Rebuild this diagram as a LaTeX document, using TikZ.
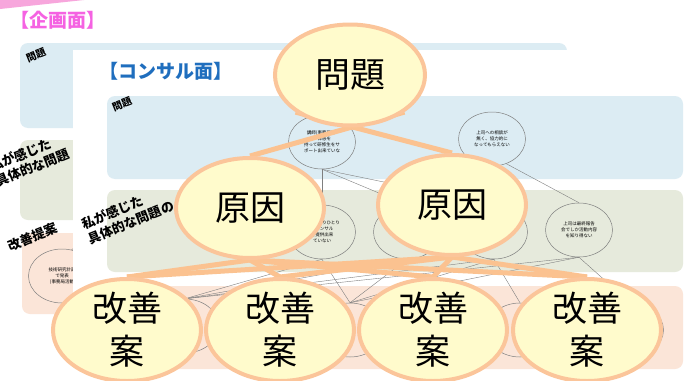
\documentclass[tikz,border=0pt]{standalone}
\usepackage{fontspec}
\newfontfamily\jp{Noto Sans CJK JP}
\usetikzlibrary{shapes.geometric}
\pgfdeclarelayer{bgl}
\pgfdeclarelayer{connl}
\pgfsetlayers{bgl,connl,main}
\definecolor{pinkt}{HTML}{F562E2}
\definecolor{pinkbar}{HTML}{F7A6DC}
\definecolor{bluet}{HTML}{1F6EBE}
\definecolor{bandb}{HTML}{DCECF3}
\definecolor{bandg}{HTML}{E6EADC}
\definecolor{bandp}{HTML}{FBE5D8}
\definecolor{ellfill}{HTML}{FFFBCC}
\definecolor{ellline}{HTML}{FBC59A}
\definecolor{conline}{HTML}{FBC290}
\definecolor{smline}{HTML}{7F7F7F}
\begin{document}
\begin{tikzpicture}[x=1pt,y=-1pt,
  bigell/.style={ellipse, draw=ellline, line width=4pt, fill=ellfill, inner sep=0pt,
    minimum width=148pt, minimum height=100pt, font=\jp\fontsize{35}{43}\selectfont},
  bigtxt/.style={font=\jp\fontsize{35}{43}\selectfont, align=center, inner sep=0pt},
  band/.style={rounded corners=8pt},
  tagsmall/.style={font=\jp\bfseries\fontsize{10}{11}\selectfont, rotate=22, inner sep=0pt, align=left},
  taglarge/.style={font=\jp\bfseries\fontsize{13}{16}\selectfont, rotate=22, inner sep=0pt, align=left},
  headtxt/.style={font=\jp\bfseries\fontsize{19}{21}\selectfont, inner sep=0pt},
  smell/.style={ellipse, draw=smline, line width=0.5pt, inner sep=0pt,
    minimum width=67pt, minimum height=54pt, font=\jp\fontsize{4.5}{6}\selectfont, align=center},
  grayline/.style={draw=smline, line width=0.4pt},
  orangeline/.style={draw=conline, line width=5pt},
]
\useasboundingbox (0,0) rectangle (685,380);

\begin{pgfonlayer}{bgl}
  \fill[white] (0,0) rectangle (685,380);
  % back slide
  \fill[pinkbar] (0,0) -- (84,0) -- (0,9) -- cycle;
  \node[headtxt, text=pinkt] (kikaku) at (58,20) {【企画面】};
  \fill[bandb, band] (20,43) rectangle (567,128);
  \fill[bandg, band] (20,140) rectangle (120,220);
  \fill[bandp, band] (22,233) rectangle (120,314);
  \node[tagsmall] (bq) at (36,55) {問題};
  \node[taglarge] (bp) at (30,160) {私が感じた\\具体的な問題};
  \node[taglarge] (bk) at (33,237) {改善提案};
  \node[smell] (be) at (62,276) {技術研究計画\\で発表\\(事務局活動};
  \coordinate (bfree) at (100,228);
  \draw[grayline] (be.70) -- (bfree);
  % front slide
  \fill[white] (73,50) rectangle (690,385);
  \node[headtxt, text=bluet] (consul) at (166,71) {【コンサル面】};
  \fill[bandb, band] (107,96) rectangle (683,179);
  \fill[bandg, band] (107,190) rectangle (683,272);
  \fill[bandp, band] (107,286) rectangle (683,369);
  \node[tagsmall] (fq) at (122,104) {問題};
  \node[taglarge] (fp) at (128,215) {私が感じた\\具体的な問題の};
  % small ellipses
  \node[smell] (b1) at (322,142) {講師(事務局)が\\一体感を\\持って研修生をサ\\ポート出来ていな};
  \node[smell] (b2) at (492,139) {上司への相談が\\無く、協力的に\\なってもらえない};
  \node[smell] (g1) at (322,232) {講師ひとりひとり\\にコンサル\\を提供出来\\ていない};
  \node[smell] (g2) at (407,232) {};
  \node[smell] (g3) at (494,232) {};
  \node[smell] (g4) at (579,230) {上司は最終報告\\会でしか活動内容\\を知り得ない};
  \node[smell] (p1) at (185,326) {};
  \node[smell] (p2) at (350,330) {};
  \node[smell] (p3) at (520,330) {};
  \node[smell] (p4) at (630,330) {};
  \draw[grayline] (b1.south) -- (g1.north);
  \draw[grayline] (b1.south) -- (g2.north);
  \draw[grayline] (b1.south) -- (g3.north);
  \draw[grayline] (b2.300) -- (g4.north);
  \draw[grayline] (g1.south) -- (p1.north);
  \draw[grayline] (g1.south) -- (p2.north);
  \draw[grayline] (g2.south) -- (p1.north);
  \draw[grayline] (g2.south) -- (p2.north);
  \draw[grayline] (g3.south) -- (p1.north);
  \draw[grayline] (g3.south) -- (p2.north);
  \draw[grayline] (g3.south) -- (p3.north);
  \draw[grayline] (g4.south) -- (p1.north);
  \draw[grayline] (g4.south) -- (p2.north);
  \draw[grayline] (g4.south) -- (p4.north);
\end{pgfonlayer}

% big nodes
\node[bigell, minimum width=150pt, minimum height=101pt] (mon) at (350,75) {問題};
\node[bigell] (gl) at (250,208) {原因};
\node[bigell] (gr) at (452,205) {原因};
\node[bigell, minimum height=102pt] (k1) at (127,330) {};
\node[bigell, minimum height=102pt] (k2) at (280,330) {};
\node[bigell, minimum height=102pt] (k3) at (433,330) {};
\node[bigell, minimum height=102pt] (k4) at (587,330) {};
\node[bigtxt] (k1t) at (k1) {改善\\案};
\node[bigtxt] (k2t) at (k2) {改善\\案};
\node[bigtxt] (k3t) at (k3) {改善\\案};
\node[bigtxt] (k4t) at (k4) {改善\\案};

\begin{pgfonlayer}{connl}
  \draw[orangeline] (gl.north) -- (mon.south east);
  \draw[orangeline] (gr.north) -- (mon.south west);
  \draw[orangeline] (gl.south) -- (k1.north);
  \draw[orangeline] (gl.south) -- (k2.north);
  \draw[orangeline] (gl.south) -- (k3.north);
  \draw[orangeline] (gl.south) -- (k4.north);
  \draw[orangeline] (gr.south) -- (k1.north);
  \draw[orangeline] (gr.south) -- (k2.north);
  \draw[orangeline] (gr.south) -- (k3.north);
  \draw[orangeline] (gr.south) -- (k4.north);
\end{pgfonlayer}
\end{tikzpicture}
\end{document}
